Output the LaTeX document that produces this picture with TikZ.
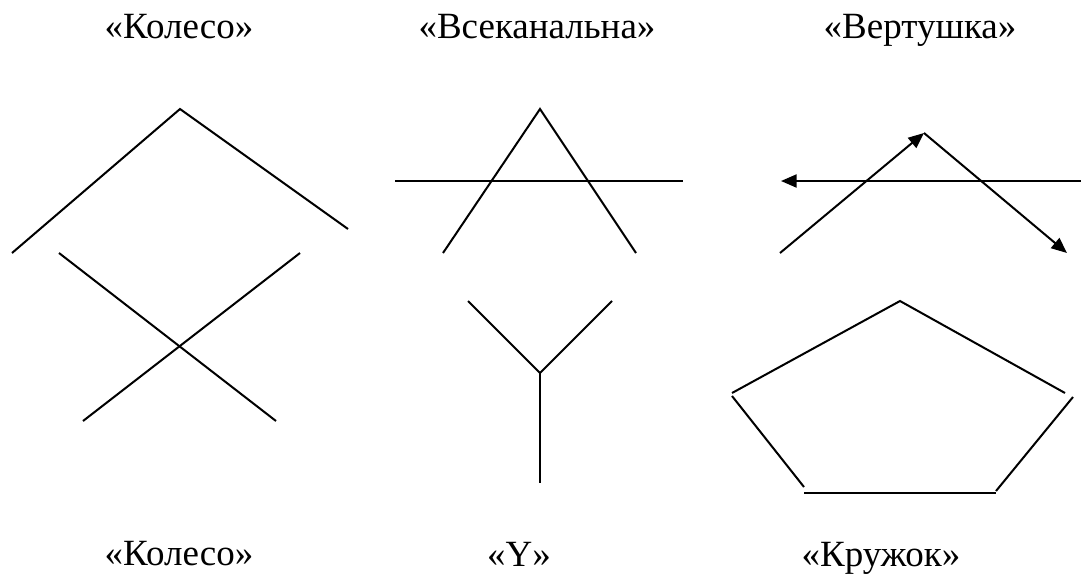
\documentclass[tikz,border=0pt]{standalone}
\usepackage{fontspec}
\setmainfont{Liberation Serif}
\usetikzlibrary{arrows.meta}

\begin{document}
\begin{tikzpicture}[x=0.5pt,y=-0.5pt,line width=1pt,
  >={Triangle[length=7.8pt,width=6.5pt]},
  lbl/.style={anchor=base,font=\fontsize{18.5}{22}\selectfont}]
  \useasboundingbox (0,0) rectangle (1081,574);
  % labels
  \node[lbl] (koleso) at (179,38) {«Колесо»};
  \node[lbl] (vsekan) at (537,38) {«Всеканальна»};
  \node[lbl] (vert) at (920,38) {«Вертушка»};
  \node[lbl] (kolesob) at (179,565) {«Колесо»};
  \node[lbl] (ygrek) at (519,566) {«Y»};
  \node[lbl] (kruzh) at (881,566) {«Кружок»};
  % koleso, top
  \coordinate (ka) at (180,109);
  \coordinate (kl) at (12,253);
  \coordinate (kr) at (348,229);
  \draw (kl) -- (ka) -- (kr);
  % koleso, cross
  \coordinate (xa) at (59,253);
  \coordinate (xb) at (276,421);
  \coordinate (xc) at (300,253);
  \coordinate (xd) at (83,421);
  \draw (xa) -- (xb);
  \draw (xc) -- (xd);
  % vsekanalna
  \coordinate (va) at (540,109);
  \coordinate (vl) at (443,253);
  \coordinate (vr) at (636,253);
  \coordinate (hl) at (395,181);
  \coordinate (hr) at (683,181);
  \draw (vl) -- (va) -- (vr);
  \draw (hl) -- (hr);
  % Y
  \coordinate (yl) at (468,301);
  \coordinate (yr) at (612,301);
  \coordinate (yc) at (540,373);
  \coordinate (yb) at (540,483);
  \draw (yl) -- (yc) -- (yr);
  \draw (yc) -- (yb);
  % vertushka
  \coordinate (wl) at (780,253);
  \coordinate (wa) at (924,133);
  \coordinate (wr) at (1067,253);
  \coordinate (gr) at (1081,181);
  \coordinate (gl) at (781,181);
  \draw[->] (wl) -- (wa);
  \draw[->] (wa) -- (wr);
  \draw[->] (gr) -- (gl);
  % kruzhok
  \coordinate (pt) at (900,301);
  \coordinate (pl) at (732,393);
  \coordinate (pr) at (1065,393);
  \draw (pl) -- (pt) -- (pr);
  \draw (732,396) -- (804,487);
  \draw (804,493) -- (996,493);
  \draw (996,491) -- (1073,397);
\end{tikzpicture}
\end{document}
